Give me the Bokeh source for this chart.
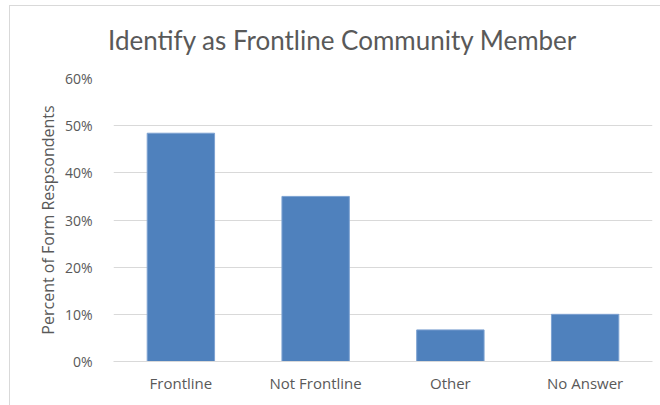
from bokeh.plotting import figure
from bokeh.layouts import column
from bokeh.models import Div, NumeralTickFormatter, FactorRange, ColumnDataSource, FixedTicker
from bokeh.embed import file_html
from bokeh.resources import INLINE

title_text = "Identify as Frontline Community Member"
categories = ["Frontline", "Not Frontline", "Other", "No Answer"]
percent = [0.484, 0.350, 0.067, 0.100]
y_ticks = [0.0, 0.1, 0.2, 0.3, 0.4, 0.5, 0.6]

src = ColumnDataSource(dict(cat=categories, val=percent))

TFONT = "Lato"
FONT = "Open Sans"
GRAY = "#595959"

title_div = Div(text=('<div style="padding:18px 0 0 98px; font-family:Lato; font-size:26px; '
                      'color:#595959; line-height:32px; white-space:nowrap">' + title_text + '</div>'),
                width=650, height=50, margin=0)

p = figure(x_range=FactorRange(*categories, range_padding=0), y_range=(0, 0.6),
           width=650, height=349, output_backend="svg", toolbar_location=None,
           min_border_left=103, min_border_right=8, min_border_top=22, min_border_bottom=44)

p.vbar(x="cat", top="val", width=0.5, source=src, fill_color="#4F81BD", line_color="#7da2d2", line_width=1)

p.outline_line_color = None
p.xgrid.grid_line_color = None
p.ygrid.grid_line_color = "#d9d9d9"
p.ygrid.grid_line_width = 1

p.yaxis.ticker = FixedTicker(ticks=y_ticks)
p.yaxis.formatter = NumeralTickFormatter(format="0%")
p.yaxis.axis_line_color = None
p.yaxis.major_tick_line_color = None
p.yaxis.minor_tick_line_color = None
p.yaxis.major_label_standoff = 15
p.yaxis.major_label_text_font = FONT
p.yaxis.major_label_text_font_size = "14px"
p.yaxis.major_label_text_color = GRAY
p.yaxis.axis_label = "Percent of Form Respsondents"
p.yaxis.axis_label_text_font = FONT
p.yaxis.axis_label_text_font_size = "16px"
p.yaxis.axis_label_text_font_style = "normal"
p.yaxis.axis_label_text_color = GRAY
p.yaxis.axis_label_standoff = 3

p.xaxis.axis_line_color = "#d9d9d9"
p.xaxis.major_tick_line_color = None
p.xaxis.minor_tick_line_color = None
p.xaxis.major_label_standoff = 5
p.xaxis.major_label_text_font = FONT
p.xaxis.major_label_text_font_size = "15px"
p.xaxis.major_label_text_color = GRAY

layout = column(title_div, p, spacing=0,
                styles={"margin-left": "9px", "margin-top": "5px",
                        "border-left": "1px solid #d9d9d9", "border-top": "1px solid #d9d9d9"})

open("out.html", "w").write(file_html(layout, INLINE))
